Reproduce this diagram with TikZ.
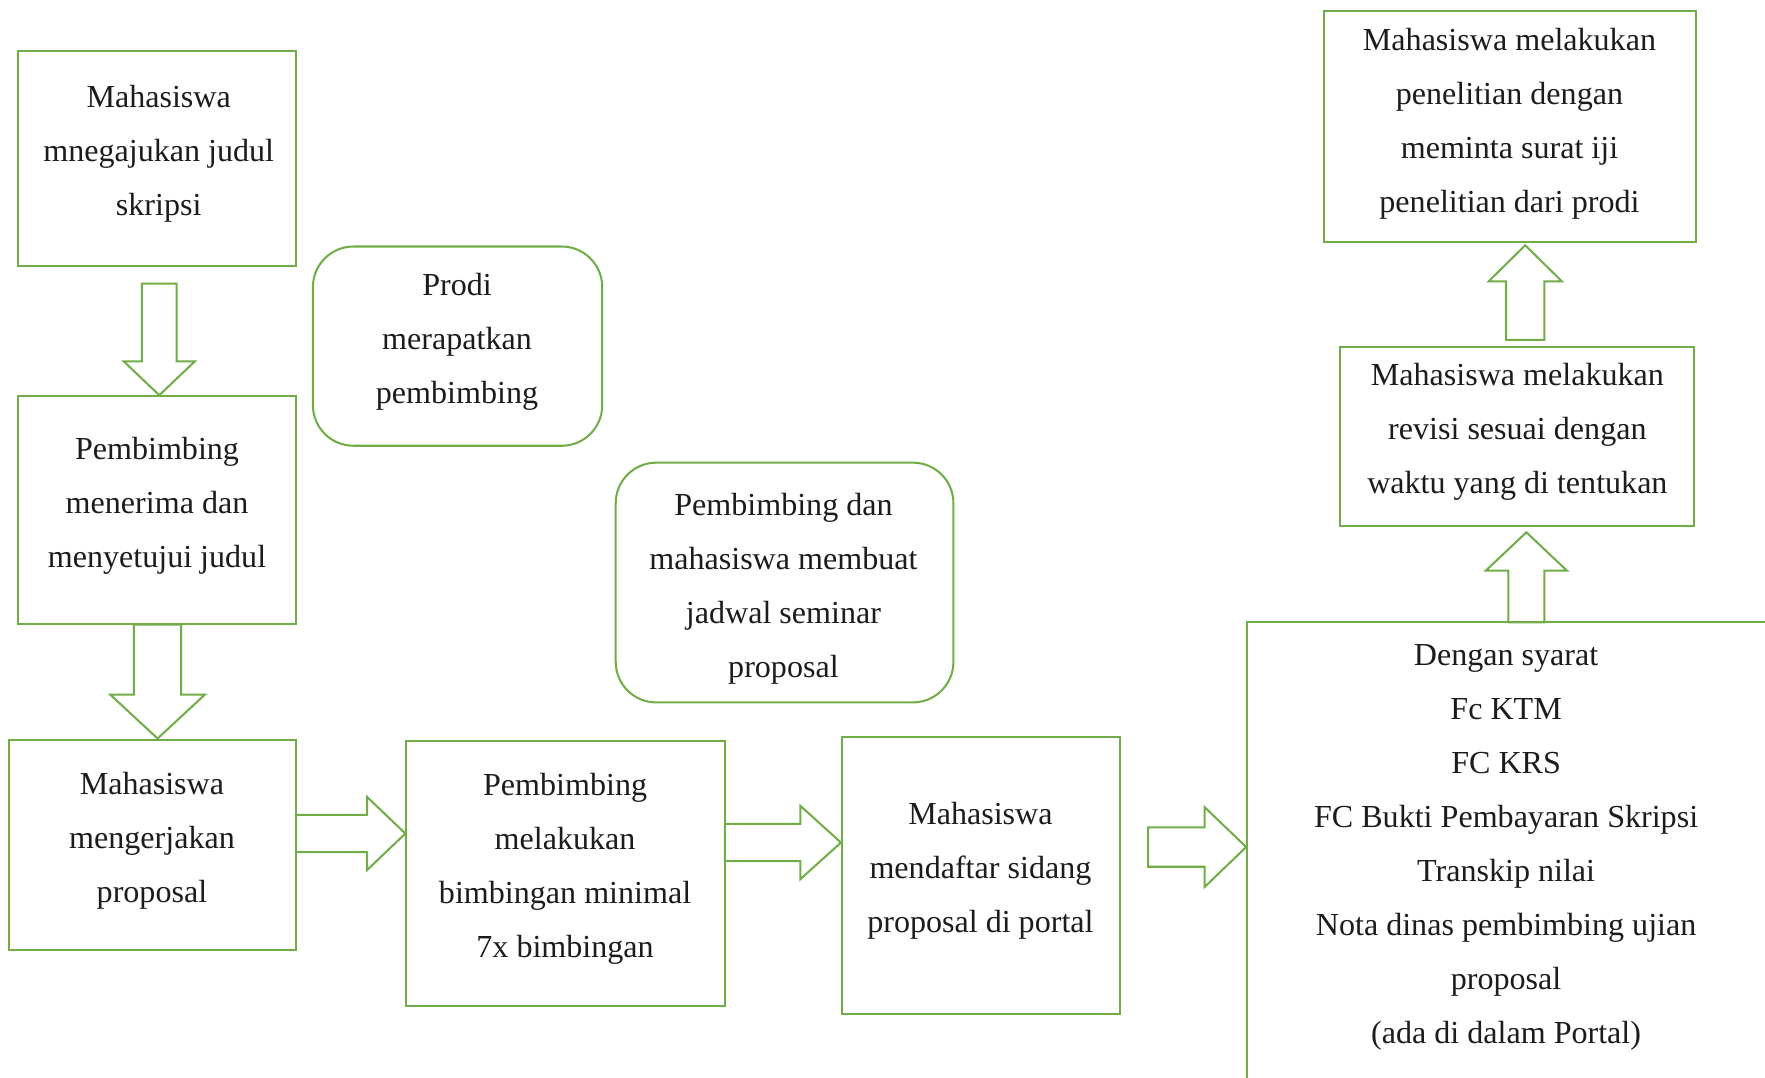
\documentclass[tikz,border=0pt]{standalone}
\usepackage{fontspec}
\setmainfont{Liberation Serif}
\usetikzlibrary{calc}
\definecolor{grn}{HTML}{70AD47}
\definecolor{ink}{HTML}{1C1C1C}
% vertical block arrow: start, tip, shaft half width, head half width, signed head length
\newcommand\blockarrowV[5]{\draw[blk] ($(#1)+(-#3,0)$) -- ($(#2)+(-#3,{-(#5)})$) -- ($(#2)+(-#4,{-(#5)})$) -- (#2) -- ($(#2)+(#4,{-(#5)})$) -- ($(#2)+(#3,{-(#5)})$) -- ($(#1)+(#3,0)$) -- cycle;}
% horizontal block arrow (pointing right)
\newcommand\blockarrowH[5]{\draw[blk] ($(#1)+(0,-#3)$) -- ($(#2)+(-#5,-#3)$) -- ($(#2)+(-#5,-#4)$) -- (#2) -- ($(#2)+(-#5,#4)$) -- ($(#2)+(-#5,#3)$) -- ($(#1)+(0,#3)$) -- cycle;}
\begin{document}
\begin{tikzpicture}[x=1pt,y=-1pt,
  box/.style={draw=grn,line width=1.8pt,inner sep=0pt,fill=none},
  rbox/.style={box,rounded corners=36pt},
  txt/.style={align=center,inner sep=0pt,text=ink,font=\fontsize{28.5}{48}\selectfont,yshift=-3pt},
  blk/.style={draw=grn,line width=1.8pt,line join=miter}]
\clip (0,0) rectangle (1568,957);
\fill[white] (0,0) rectangle (1568,957);

% boxes
\node[box,minimum width=247,minimum height=191] (A) at (139.5,140.5) {};
\node[txt] (At) at (141,133.5) {Mahasiswa\\mnegajukan judul\\skripsi};

\node[box,minimum width=247,minimum height=202] (B) at (139.5,453) {};
\node[txt] (Bt) at (139.5,446) {Pembimbing\\menerima dan\\menyetujui judul};

\node[box,minimum width=255,minimum height=187] (C) at (135.5,750.5) {};
\node[txt] (Ct) at (135,744) {Mahasiswa\\mengerjakan\\proposal};

\node[box,minimum width=283,minimum height=236] (D) at (502.5,776) {};
\node[txt] (Dt) at (502,769) {Pembimbing\\melakukan\\bimbingan minimal\\7x bimbingan};

\node[box,minimum width=247,minimum height=246] (E) at (871.5,778) {};
\node[txt] (Et) at (871,771) {Mahasiswa\\mendaftar sidang\\proposal di portal};

\node[box,minimum width=472,minimum height=437] (F) at (1344,771.5) {};
\node[txt] (Ft) at (1338,749.5) {Dengan syarat\\Fc KTM\\FC KRS\\FC Bukti Pembayaran Skripsi\\Transkip nilai\\Nota dinas pembimbing ujian\\proposal\\(ada di dalam Portal)};

\node[box,minimum width=315,minimum height=159] (G) at (1347.5,387.5) {};
\node[txt] (Gt) at (1348,381) {Mahasiswa melakukan\\revisi sesuai dengan\\waktu yang di tentukan};

\node[box,minimum width=331,minimum height=205] (H) at (1341.5,112.5) {};
\node[txt] (Ht) at (1341,107) {Mahasiswa melakukan\\penelitian dengan\\meminta surat iji\\penelitian dari prodi};

\node[rbox,minimum width=257,minimum height=177] (P) at (406.5,307.5) {};
\node[txt] (Pt) at (406,301) {Prodi\\merapatkan\\pembimbing};

\node[rbox,minimum width=300,minimum height=213] (Q) at (697,517.5) {};
\node[txt] (Qt) at (696,520) {Pembimbing dan\\mahasiswa membuat\\jadwal seminar\\proposal};

% block arrows
\coordinate (s1) at (141.5,252);
\coordinate (t1) at (s1 |- B.north);
\blockarrowV{s1}{t1}{15.5}{31.5}{30}

\coordinate (s2) at ($(B.south)+(0.5,0)$);
\coordinate (t2) at (s2 |- C.north);
\blockarrowV{s2}{t2}{21}{42}{39}

\coordinate (s3) at (263,740.5);
\coordinate (t3) at (s3 -| D.west);
\blockarrowH{s3}{t3}{16.5}{32.5}{34}

\coordinate (s4) at (644,748.5);
\coordinate (t4) at (s4 -| E.west);
\blockarrowH{s4}{t4}{16.5}{32.5}{36}

\coordinate (s5) at (1020,752.5);
\coordinate (t5) at (s5 -| F.west);
\blockarrowH{s5}{t5}{17.5}{35.5}{37}

\coordinate (s6) at (1356,553);
\coordinate (t6) at ($(s6 |- G.south)+(0,5)$);
\blockarrowV{s6}{t6}{16}{36}{-34}

\coordinate (s7) at (1355,302);
\coordinate (t7) at ($(s7 |- H.south)+(0,2)$);
\blockarrowV{s7}{t7}{17}{32.5}{-32}
\end{tikzpicture}
\end{document}
